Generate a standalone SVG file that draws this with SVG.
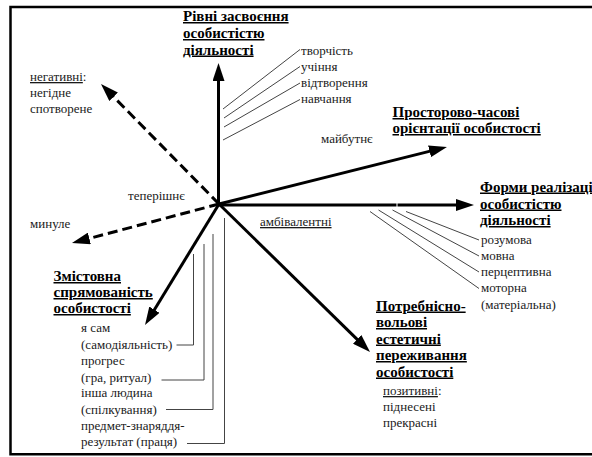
<svg xmlns="http://www.w3.org/2000/svg" width="592" height="457" viewBox="0 0 592 457">
  <style>
    text { font-family: "Liberation Serif", "Liberation Sans", sans-serif; }
    .t { font-size: 13px; fill: #1a1a1a; }
    .h { font-size: 15px; font-weight: bold; fill: #000; text-decoration: underline; text-decoration-thickness: 1.6px; }
    .u { text-decoration: underline; }
    .axis { stroke: #000; stroke-width: 3; fill: none; marker-end: url(#ah); }
    .dash { stroke-dasharray: 10 5; }
    .lead { stroke: #444; stroke-width: 1; fill: none; }
    .frame { stroke: #000; stroke-width: 2.5; fill: none; }
  </style>
  <defs>
    <marker id="ah" viewBox="0 0 18 12" markerWidth="18" markerHeight="12" refX="10" refY="6" orient="auto" markerUnits="userSpaceOnUse">
      <path d="M0,0 L18,6 L0,12 Z" fill="#000"/>
    </marker>
  </defs>

  <rect width="592" height="457" fill="#fff"/>
  <!-- open frame: left, top and bottom edges -->
  <path class="frame" d="M592,7 H10.5 V454.3 H592"/>

  <g id="connectors">
    <!-- main axes from the common origin -->
    <line class="axis" x1="218.5" y1="204" x2="218.5" y2="71"/>
    <line class="axis dash" x1="219" y1="204" x2="106.6" y2="89.7"/>
    <line class="axis dash" x1="219" y1="204" x2="79.7" y2="241"/>
    <line class="axis" x1="219" y1="204" x2="439.2" y2="148.9"/>
    <line x1="219" y1="205" x2="396.5" y2="205" stroke="#000" stroke-width="3"/>
    <line class="axis" x1="397.5" y1="205" x2="466" y2="205"/>
    <line class="axis" x1="219" y1="204" x2="364.3" y2="346.4"/>
    <line class="axis" x1="219" y1="204" x2="149.2" y2="318.2"/>

    <!-- leaders to the mastery levels -->
    <line class="lead" x1="223" y1="109" x2="300" y2="49.5"/>
    <line class="lead" x1="224" y1="118" x2="300" y2="66.5"/>
    <line class="lead" x1="224" y1="127" x2="300" y2="83"/>
    <line class="lead" x1="223" y1="140" x2="300" y2="99.5"/>

    <!-- leaders to the activity forms -->
    <line class="lead" x1="406" y1="211.5" x2="479" y2="240"/>
    <line class="lead" x1="392.5" y1="210" x2="479" y2="256"/>
    <line class="lead" x1="378.5" y1="210" x2="479" y2="272"/>
    <line class="lead" x1="370" y1="211.5" x2="479" y2="288.5"/>

    <!-- brackets to the content orientations -->
    <polyline class="lead" points="193.5,254 193.5,345 176.5,345"/>
    <polyline class="lead" points="204,244 204,380 161.5,380"/>
    <polyline class="lead" points="213,234 213,409.5 166,409.5"/>
    <polyline class="lead" points="224.5,218 224.5,443.5 187,443.5" stroke="#222"/>
  </g>

  <g id="levels">
    <text class="h" x="183" y="21">Рівні засвоєння</text>
    <text class="h" x="183" y="38">особистістю</text>
    <text class="h" x="183" y="54.5">діяльності</text>
    <text class="t" x="301" y="54.5">творчість</text>
    <text class="t" x="301" y="70.8">учіння</text>
    <text class="t" x="301" y="87">відтворення</text>
    <text class="t" x="301" y="103.3">навчання</text>
  </g>

  <g id="negative">
    <text class="t" x="30" y="81"><tspan class="u">негативні</tspan>:</text>
    <text class="t" x="30" y="97">негідне</text>
    <text class="t" x="30" y="113">спотворене</text>
  </g>

  <g id="time">
    <text class="t" x="128" y="199.5">теперішнє</text>
    <text class="t" x="30" y="228">минуле</text>
    <text class="t" x="321" y="143">майбутнє</text>
  </g>

  <g id="orientation">
    <text class="h" x="392.5" y="117">Просторово-часові</text>
    <text class="h" x="392.5" y="133">орієнтації особистості</text>
  </g>

  <g id="forms">
    <text class="h" x="480" y="191.5">Форми реалізації</text>
    <text class="h" x="480" y="208.5">особистістю</text>
    <text class="h" x="480" y="225">діяльності</text>
    <text class="t" x="481" y="244">розумова</text>
    <text class="t" x="481" y="260">мовна</text>
    <text class="t" x="481" y="276">перцептивна</text>
    <text class="t" x="481" y="292">моторна</text>
    <text class="t" x="481" y="308.5">(матеріальна)</text>
  </g>

  <g id="ambivalent">
    <text class="t u" x="260" y="226">амбівалентні</text>
  </g>

  <g id="experience">
    <text class="h" x="376" y="310.5">Потребнісно-</text>
    <text class="h" x="376" y="327">вольові</text>
    <text class="h" x="376" y="343.5">естетичні</text>
    <text class="h" x="376" y="360">переживання</text>
    <text class="h" x="376" y="376.5">особистості</text>
    <text class="t" x="383" y="395"><tspan class="u">позитивні</tspan>:</text>
    <text class="t" x="383" y="411">піднесені</text>
    <text class="t" x="383" y="427">прекрасні</text>
  </g>

  <g id="content">
    <text class="h" x="53.5" y="281">Змістовна</text>
    <text class="h" x="53.5" y="297">спрямованість</text>
    <text class="h" x="53.5" y="313">особистості</text>
    <text class="t" x="81" y="332">я сам</text>
    <text class="t" x="81" y="348.5">(самодіяльність)</text>
    <text class="t" x="81" y="365">прогрес</text>
    <text class="t" x="81" y="381.5">(гра, ритуал)</text>
    <text class="t" x="81" y="397">інша людина</text>
    <text class="t" x="81" y="413.5">(спілкування)</text>
    <text class="t" x="81" y="430">предмет-знаряддя-</text>
    <text class="t" x="81" y="446">результат (праця)</text>
  </g>
</svg>
